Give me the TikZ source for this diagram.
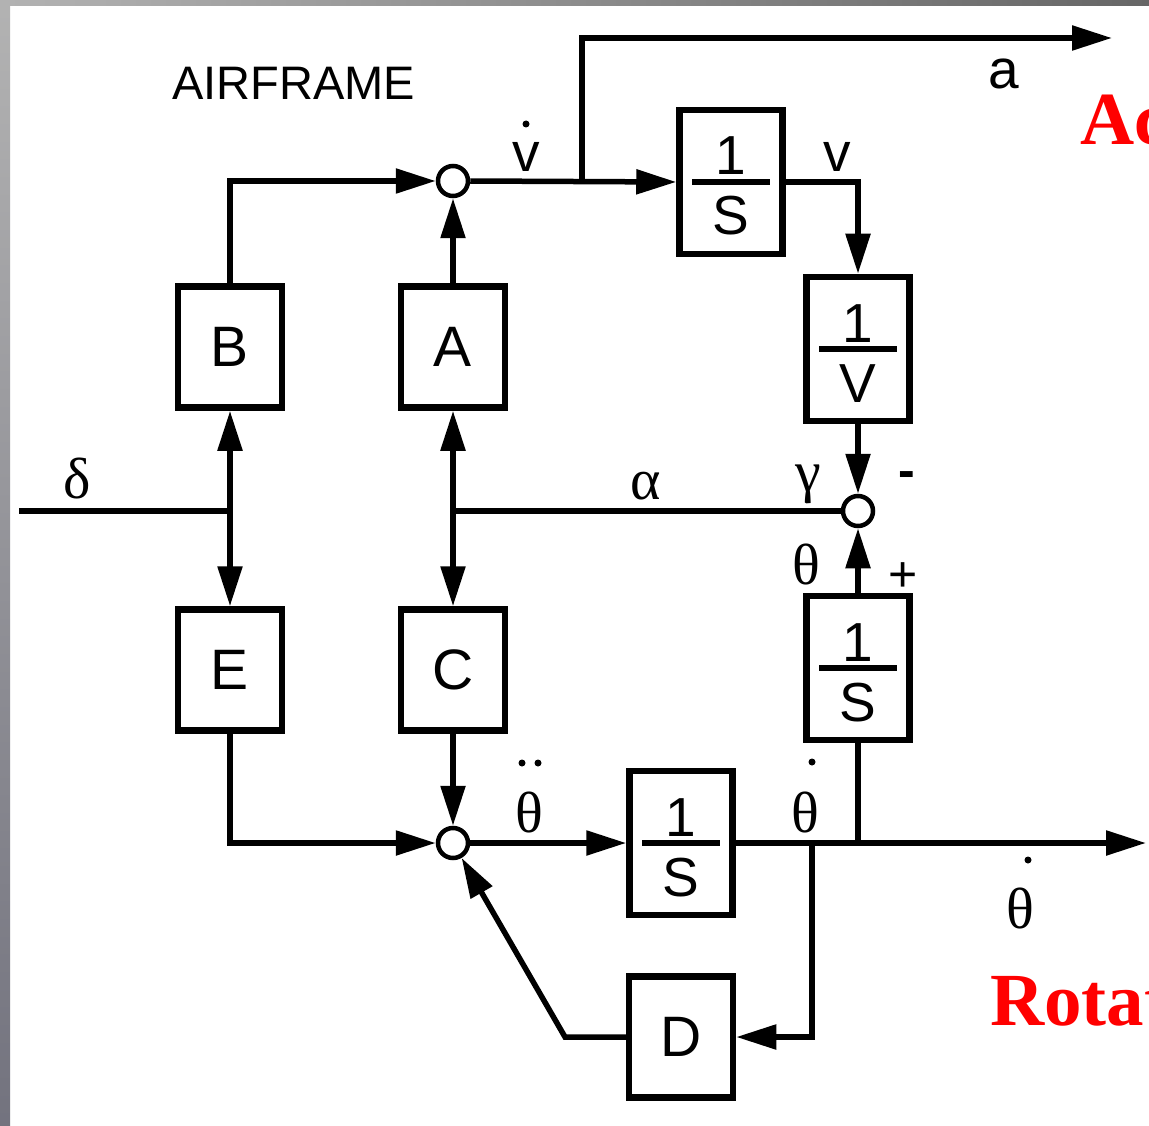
\documentclass[tikz,border=0pt]{standalone}
\usepackage{fontspec}
\setmainfont{Liberation Sans}
\newfontfamily\grk{Liberation Serif}
\newfontfamily\redserif{Liberation Serif}
\usetikzlibrary{arrows.meta,calc}
\begin{document}
\begin{tikzpicture}[x=1pt,y=-1pt,
  ln/.style={line width=5.5pt},
  arr/.style={line width=5.5pt,-{Triangle[length=40pt,width=24pt]}},
  blk/.style={draw,line width=6.5pt,minimum width=104pt,minimum height=121pt,inner sep=0pt,
              font=\fontsize{57}{57}\selectfont},
  fblk/.style={draw,line width=6.5pt,minimum width=103pt,minimum height=144pt,inner sep=0pt},
  sumj/.style={draw,circle,line width=4.5pt,minimum size=30pt,inner sep=0pt,fill=white},
  lbl/.style={inner sep=0pt,font=\fontsize{55}{55}\selectfont},
  glbl/.style={inner sep=0pt,font=\grk\fontsize{58}{58}\selectfont},
  sgn/.style={inner sep=0pt,font=\fontsize{50}{50}\selectfont},
  redt/.style={inner sep=0pt,anchor=base west,text=red,font=\redserif\bfseries\fontsize{75}{75}\selectfont}
]
\path[use as bounding box] (0,0) rectangle (1149,1126);
\fill[white] (0,0) rectangle (1149,1126);
% gray frame
\shade[top color=black!30,bottom color=black!55!blue!10!gray] (0,0) rectangle (10,1126);
\shade[left color=black!30,right color=black!60] (0,0) rectangle (1149,6);

% blocks
\node[blk] (B) at (230,347) {B};
\node[blk] (A) at (453,347) {A};
\node[blk] (E) at (230,670) {E};
\node[blk] (C) at (453,670) {C};
\node[blk] (D) at (681,1037) {D};

\newcommand\fbx[5]{% name, x, y, num, den
  \node[fblk] (#1) at (#2,#3) {};
  \node[lbl,anchor=base] at ([yshift=7pt]#1.center) {#4};
  \node[lbl,anchor=base] at ([yshift=-53pt]#1.center) {#5};
  \draw[line width=5.5pt] ([xshift=-39pt]#1.center) -- ([xshift=39pt]#1.center);
}
\fbx{I1}{731}{182}{1}{S}
\fbx{I2}{858}{349}{1}{V}
\fbx{I3}{858}{668}{1}{S}
\fbx{I4}{681}{843}{1}{S}

% summing junctions
\node[sumj] (S1) at (453,181) {};
\node[sumj] (S2) at (858,511) {};
\node[sumj] (S3) at (453,843) {};

% coordinates
\coordinate (br1) at (582,181);
\coordinate (aout) at (1112,38);
\coordinate (jA) at (453,511);
\coordinate (jB) at (230,511);
\coordinate (din) at (19,511);
\coordinate (tout) at (1146,843);
\coordinate (br3) at (858,843);
\coordinate (br4) at (812,843);
\coordinate (dk) at (565,1037);

% connectors
\draw[arr] (B.north) |- (S1.west);
\draw[arr] (A.north) -- (S1.south);
\draw[arr] (S1.east) -- (I1.west);
\draw[arr] (br1) |- (aout);
\draw[arr] (I1.east) -| (I2.north);
\draw[arr] (I2.south) -- (S2.north);
\draw[arr] (I3.north) -- (S2.south);
\draw[ln] (jA) -- (S2.west);
\draw[arr] (jA) -- (A.south);
\draw[arr] (jA) -- (C.north);
\draw[ln] (din) -- (jB);
\draw[arr] (jB) -- (B.south);
\draw[arr] (jB) -- (E.north);
\draw[arr] (E.south) |- (S3.west);
\draw[arr] (C.south) -- (S3.north);
\draw[arr] (S3.east) -- (I4.west);
\draw[arr] (I4.east) -- (tout);
\draw[ln] (br3) -- (I3.south);
\draw[arr] (br4) |- (D.east);
\draw[arr] (D.west) -- (dk) -- (S3);

% labels
\node[lbl] (AF) at (172,100) [anchor=base west,font=\fontsize{47}{47}\selectfont] {AIRFRAME};
\node[lbl] (vd) at (526,157) {v};
\fill (526,124) circle (3.5);
\node[lbl] (vl) at (837,157) {v};
\node[lbl] (al) at (1004,74) {a};
\node[glbl] (dl) at (77,479) {δ};
\node[glbl] (alp) at (646,486) {α};
\node[glbl] (gam) at (808,484) {γ};
\node[glbl] (th1) at (806,565) {θ};
\node[sgn,font=\bfseries\fontsize{50}{50}\selectfont] (mi) at (907,480) {-};
\node[sgn] (pl) at (903,577) {+};
\node[glbl] (thdd) at (529,812) {θ};
\fill (522,763) circle (3.5) (538,763) circle (3.5);
\node[glbl] (thd1) at (805,812) {θ};
\fill (812,762) circle (3.5);
\node[glbl] (thd2) at (1020,908) {θ};
\fill (1028,860) circle (3.5);

% red titles (clipped at the right edge, as in the reference)
\begin{scope}
\clip (0,0) rectangle (1149,1126);
\node[redt] (acc) at (1080,145) {Ac};
\node[redt] (rot) at (990,1025) {Rotat};
\end{scope}
\end{tikzpicture}
\end{document}
